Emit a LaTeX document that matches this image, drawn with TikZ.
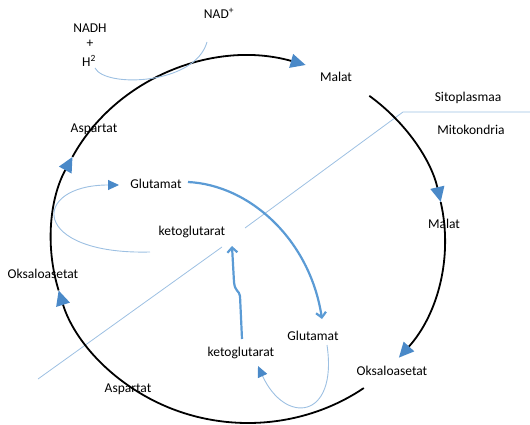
\documentclass[tikz,border=0pt]{standalone}
\usepackage{fontspec}
\setmainfont{Carlito}
\usetikzlibrary{arrows.meta}

\definecolor{tipblue}{HTML}{4A89C8}
\definecolor{flowblue}{HTML}{5B9BD5}
\definecolor{paleblue}{HTML}{9DC0E2}

\begin{document}
\begin{tikzpicture}[x=1pt,y=-1pt,
  lbl/.style={font=\fontsize{13.5}{16}\selectfont, anchor=base, inner sep=2pt},
  loopline/.style={black, line width=1.8pt, -{Triangle[length=15pt,width=14pt,color=tipblue]}},
  thinflow/.style={paleblue, line width=0.9pt},
  thinarrow/.style={thinflow, -{Triangle[length=11pt,width=10pt,color=tipblue]}},
  thickflow/.style={flowblue, line width=2.2pt, -{Straight Barb[length=5pt,width=10pt]}},
  membrane/.style={paleblue, line width=0.8pt}]
  \useasboundingbox (0,0) rectangle (530,425);

  %Define nodes
  \node[lbl] (nadh)   at (90,33)   {NADH};
  \node[lbl] (plus)   at (90,48)   {+};
  \node[lbl] (h2)     at (89,67)   {H\textsuperscript{2}};
  \node[lbl] (nad)    at (219,19)  {NAD\textsuperscript{+}};
  \node[lbl] (malat1) at (336,82)  {Malat};
  \node[lbl] (sito)   at (468,102) {Sitoplasmaa};
  \node[lbl] (mito)   at (471,135) {Mitokondria};
  \node[lbl] (malat2) at (444,228) {Malat};
  \node[lbl] (oks2)   at (392,375) {Oksaloasetat};
  \node[lbl] (glu2)   at (313,340) {Glutamat};
  \node[lbl] (kg2)    at (241,356) {ketoglutarat};
  \node[lbl] (asp2)   at (128,392) {Aspartat};
  \node[lbl] (oks1)   at (43,278)  {Oksaloasetat};
  \node[lbl] (kg1)    at (192,235) {ketoglutarat};
  \node[lbl] (glu1)   at (156,188) {Glutamat};
  \node[lbl] (asp1)   at (94,133)  {Aspartat};

  % membrane
  \coordinate (m1) at (38,379);
  \coordinate (m2) at (222,247);
  \coordinate (m3) at (245,228);
  \coordinate (m4) at (403,112);
  \coordinate (m5) at (530,112);
  \draw[membrane] (m1) -- (m2);
  \draw[membrane] (m3) -- (m4) -- (m5);

  % the cycle
  \coordinate (c) at (248,240);
  \path (c) ++(54:197 and 183)  coordinate (a1);
  \path (c) ++(164:197 and 183) coordinate (a2);
  \path (c) ++(207:197 and 183) coordinate (a3);
  \path (c) ++(308:197 and 183) coordinate (a4);
  \path (c) ++(348:197 and 183) coordinate (a5);
  \draw[loopline] (a1) arc[start angle=54, end angle=164, x radius=197, y radius=183];
  \draw[loopline] (a2) arc[start angle=164, end angle=207, x radius=197, y radius=183];
  \draw[loopline] (a3) arc[start angle=207, end angle=287, x radius=197, y radius=183];
  \draw[loopline] (a4) arc[start angle=308, end angle=348, x radius=197, y radius=183];
  \draw[loopline] (a5) arc[start angle=348, end angle=400, x radius=197, y radius=183];

  % Connect the nodes
  \coordinate (nadhA) at (95,68);
  \coordinate (nadB)  at (207,42);
  \draw[thinflow] (nadhA) .. controls (105,88) and (195,85) .. (nadB);

  \coordinate (kgL)  at (150,252);
  \coordinate (gluL) at (119,185);
  \draw[thinarrow] (kgL) .. controls (30,255) and (30,185) .. (gluL);

  \coordinate (gluR) at (188,182);
  \coordinate (gluD) at (322,319);
  \draw[thickflow] (gluR) .. controls (250,185) and (310,240) .. (gluD);

  \coordinate (kgU)  at (242,339);
  \coordinate (kgT)  at (232,246);
  \draw[thickflow] (kgU) -- (240,296) .. controls (239,290) and (235,292) .. (234,282) -- (kgT);

  \coordinate (gluB) at (327,345);
  \coordinate (kgB)  at (258,366);
  \draw[thinarrow] (gluB) .. controls (338,420) and (285,425) .. (kgB);
\end{tikzpicture}
\end{document}
